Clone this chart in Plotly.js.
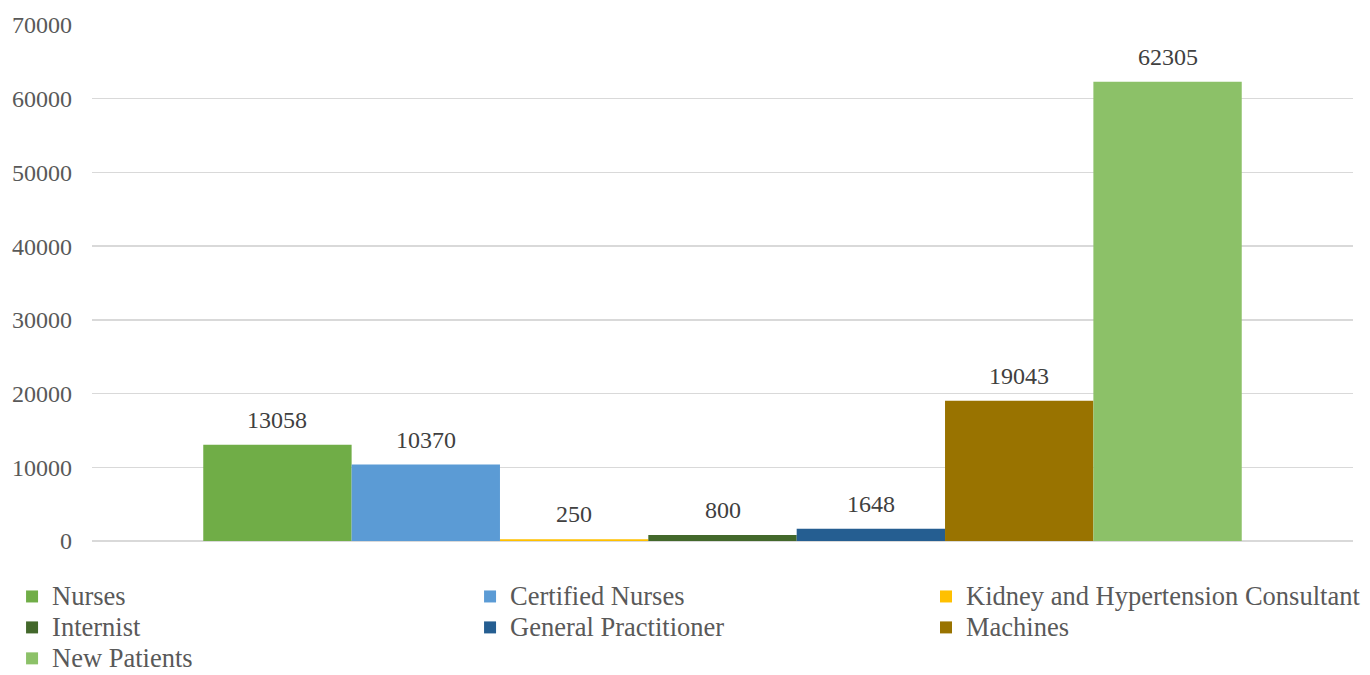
<!DOCTYPE html>
<html>
<head>
<meta charset="utf-8">
<script src="https://cdn.plot.ly/plotly-3.0.1.min.js"></script>
<style>html,body{margin:0;padding:0;background:#fff;}#chart{width:1370px;height:675px;}</style>
</head>
<body>
<div id="chart"></div>
<script>
const seriesNames = ["Nurses", "Certified Nurses", "Kidney and Hypertension Consultant", "Internist", "General Practitioner", "Machines", "New Patients"];
const seriesValues = [13058, 10370, 250, 800, 1648, 19043, 62305];
const seriesColors = ["#70ad47", "#5b9bd5", "#ffc000", "#43682b", "#255e91", "#997300", "#8cc168"];
const yTicks = [0, 10000, 20000, 30000, 40000, 50000, 60000, 70000];

const FONT = "Liberation Serif, Times New Roman, serif";
// legend column for each series (3-column legend, filled row by row)
const legendIds = ["legend", "legend2", "legend3"];

const traces = seriesNames.map((name, i) => ({
  type: "bar",
  name: '<span style="font-size:26.5px">' + name + '</span>',
  legend: legendIds[i % 3],
  x: [i],
  y: [seriesValues[i]],
  width: 1,
  marker: {color: seriesColors[i], line: {width: 0}},
  hoverinfo: "skip"
}));

const annotations = seriesNames.map((name, i) => ({
  x: i, y: seriesValues[i], xref: "x", yref: "y",
  text: String(seriesValues[i]),
  showarrow: false,
  yanchor: "middle",
  yshift: 25,
  font: {family: FONT, size: 24, color: "#404040"}
}));

function legendAt(x) {
  return {
    orientation: "v",
    x: x, xanchor: "left",
    y: -0.0678, yanchor: "top",
    font: {family: FONT, size: 21.5, color: "#595959"},
    itemwidth: 30,
    traceorder: "normal",
    bgcolor: "rgba(0,0,0,0)"
  };
}

const layout = {
  width: 1370, height: 675,
  margin: {l: 92, r: 17, t: 25, b: 134, autoexpand: false},
  paper_bgcolor: "#ffffff", plot_bgcolor: "#ffffff",
  font: {family: FONT, color: "#595959"},
  barmode: "overlay",
  showlegend: true,
  annotations: annotations,
  legend: legendAt(-0.0634),
  legend2: legendAt(0.2998),
  legend3: legendAt(0.6614),
  xaxis: {
    range: [-1.25, 7.25],
    showticklabels: false, showgrid: false, zeroline: false, showline: false, ticks: "",
    fixedrange: true
  },
  yaxis: {
    range: [0, 70000],
    tickvals: yTicks,
    ticktext: yTicks.map(String),
    showgrid: true, gridcolor: "#d9d9d9", gridwidth: 1.5,
    zeroline: true, zerolinecolor: "#d9d9d9", zerolinewidth: 2,
    showline: false, ticks: "",
    ticklabelstandoff: 19,
    tickfont: {family: FONT, size: 24, color: "#595959"}
  }
};

Plotly.newPlot("chart", traces, layout, {displayModeBar: false, staticPlot: true});
</script>
</body>
</html>
